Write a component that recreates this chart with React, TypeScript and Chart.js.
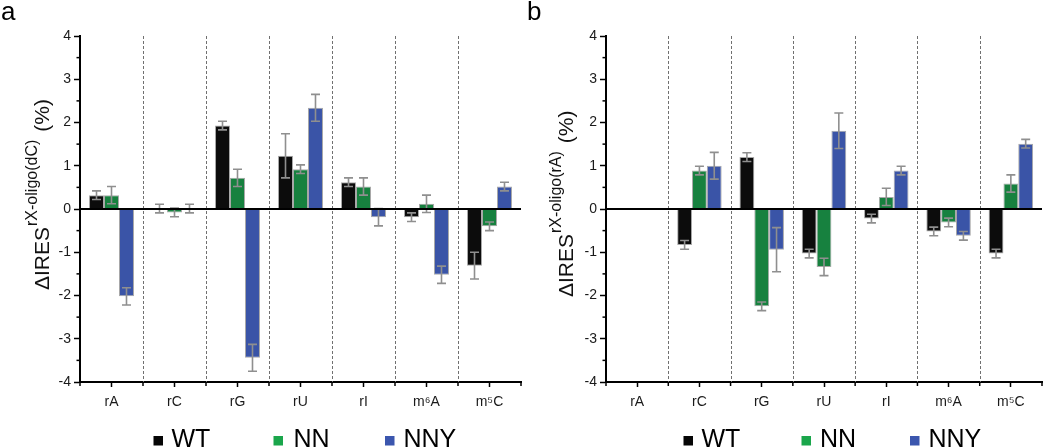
import React, { useEffect, useRef } from 'react';
import { Chart, registerables } from 'chart.js';
Chart.register(...registerables);

const categories = ['rA', 'rC', 'rG', 'rU', 'rI', 'm⁶A', 'm⁵C'];
const seriesNames = ['WT', 'NN', 'NNY'];
const yMin = -4;
const yMax = 4;

// Panel a: ΔIRES rX-oligo(dC)
const aWT = [0.32, 0.01, 1.93, 1.23, 0.62, -0.19, -1.31];
const aWTErr = [0.1, 0.1, 0.1, 0.51, 0.1, 0.1, 0.31];
const aNN = [0.32, -0.08, 0.72, 0.92, 0.52, 0.12, -0.4];
const aNNErr = [0.2, 0.1, 0.2, 0.1, 0.2, 0.2, 0.1];
const aNNY = [-2.02, 0.01, -3.44, 2.34, -0.19, -1.52, 0.52];
const aNNYErr = [0.2, 0.1, 0.31, 0.31, 0.2, 0.2, 0.1];

// Panel b: ΔIRES rX-oligo(rA)
const bWT = [null, -0.83, 1.2, -1.03, -0.22, -0.52, -1.03];
const bWTErr = [null, 0.1, 0.1, 0.1, 0.1, 0.1, 0.1];
const bNN = [null, 0.89, -2.25, -1.34, 0.28, -0.31, 0.59];
const bNNErr = [null, 0.1, 0.1, 0.2, 0.2, 0.1, 0.2];
const bNNY = [null, 1.0, -0.94, 1.81, 0.89, -0.62, 1.51];
const bNNYErr = [null, 0.31, 0.51, 0.41, 0.1, 0.1, 0.1];

const FONT = '"Liberation Sans", Arial, Helvetica, sans-serif';
const barColors = ['#0c0c0c', '#17813f', '#3a54a7'];
const legendColors = ['#050505', '#1aa64b', '#3b56ae'];

type PanelCfg = {
  letter: string;
  letterX: number;
  sup: string;
  titleX: number;
  titleBottom: number;
  legend: { sq: number; tx: number }[];
  values: (number | null)[][];
  errors: (number | null)[][];
  padLeft: number;
  yWidth: number;
  padRight: number;
};

const decorPlugin = {
  id: 'decor',
  beforeDatasetsDraw(chart: any) {
    const { ctx, chartArea, scales } = chart;
    const x = scales.x;
    ctx.save();
    ctx.strokeStyle = '#707070';
    ctx.lineWidth = 1;
    ctx.setLineDash([3, 2]);
    for (let i = 0; i < categories.length - 1; i++) {
      const px = Math.round((x.getPixelForValue(i) + x.getPixelForValue(i + 1)) / 2) + 0.5;
      ctx.beginPath();
      ctx.moveTo(px, chartArea.top);
      ctx.lineTo(px, chartArea.bottom);
      ctx.stroke();
    }
    ctx.restore();
  },
  afterDatasetsDraw(chart: any) {
    const { ctx, chartArea, scales } = chart;
    const y = scales.y;
    ctx.save();
    ctx.strokeStyle = '#8f8f8f';
    ctx.lineWidth = 1.6;
    chart.data.datasets.forEach((ds: any, di: number) => {
      const meta = chart.getDatasetMeta(di);
      meta.data.forEach((bar: any, i: number) => {
        const v = ds.data[i];
        const e = ds.errs[i];
        if (v == null || e == null) return;
        const xc = bar.x;
        const yt = y.getPixelForValue(v + e);
        const yb = y.getPixelForValue(v - e);
        ctx.beginPath();
        ctx.moveTo(xc, yt);
        ctx.lineTo(xc, yb);
        ctx.moveTo(xc - 4.5, yt);
        ctx.lineTo(xc + 4.5, yt);
        ctx.moveTo(xc - 4.5, yb);
        ctx.lineTo(xc + 4.5, yb);
        ctx.stroke();
      });
    });
    // zero line
    const y0 = y.getPixelForValue(0);
    ctx.strokeStyle = '#000';
    ctx.lineWidth = 2;
    ctx.beginPath();
    ctx.moveTo(chartArea.left, y0);
    ctx.lineTo(chartArea.right, y0);
    ctx.stroke();
    ctx.restore();
  },
  afterDraw(chart: any, _args: any, opts: any) {
    const cfg: PanelCfg = opts.cfg;
    const { ctx, chartArea, scales } = chart;
    const x = scales.x;
    const y = scales.y;
    ctx.save();
    // boundary ticks on x axis
    ctx.strokeStyle = '#000';
    ctx.lineWidth = 1.5;
    for (let i = 0; i <= categories.length; i++) {
      let px;
      if (i === 0) px = chartArea.left;
      else if (i === categories.length) px = chartArea.right;
      else px = (x.getPixelForValue(i - 1) + x.getPixelForValue(i)) / 2;
      ctx.beginPath();
      ctx.moveTo(px, chartArea.bottom);
      ctx.lineTo(px, chartArea.bottom + 4);
      ctx.stroke();
    }
    // minor y ticks
    for (let v = yMin + 0.5; v < yMax; v += 1) {
      const py = y.getPixelForValue(v);
      ctx.beginPath();
      ctx.moveTo(chartArea.left - 3.5, py);
      ctx.lineTo(chartArea.left, py);
      ctx.stroke();
    }
    // y title
    ctx.fillStyle = '#111';
    ctx.translate(cfg.titleX, cfg.titleBottom);
    ctx.rotate(-Math.PI / 2);
    ctx.textBaseline = 'alphabetic';
    ctx.textAlign = 'left';
    ctx.font = `21px ${FONT}`;
    const main = 'ΔIRES';
    ctx.fillText(main, 0, 0);
    let off = ctx.measureText(main).width + 1;
    ctx.font = `16px ${FONT}`;
    ctx.fillText(cfg.sup, off, -12);
    off += ctx.measureText(cfg.sup).width + 8;
    ctx.font = `21px ${FONT}`;
    ctx.fillText('(%)', off, 0);
    ctx.setTransform(1, 0, 0, 1, 0, 0);
    // panel letter
    ctx.font = `26px ${FONT}`;
    ctx.fillStyle = '#000';
    ctx.fillText(cfg.letter, cfg.letterX, 20);
    // legend
    ctx.font = `25px ${FONT}`;
    cfg.legend.forEach((it, i) => {
      ctx.fillStyle = legendColors[i];
      ctx.fillRect(it.sq, 436, 9.5, 9.5);
      ctx.fillStyle = '#000';
      ctx.fillText(seriesNames[i], it.tx, 446.5);
    });
    ctx.restore();
  },
};

function Panel({ cfg }: { cfg: PanelCfg }) {
  const ref = useRef<HTMLCanvasElement>(null);
  useEffect(() => {
    if (!ref.current) return;
    const chart = new Chart(ref.current, {
      type: 'bar',
      data: {
        labels: categories,
        datasets: seriesNames.map((name, i) => ({
          label: name,
          data: cfg.values[i],
          errs: cfg.errors[i],
          backgroundColor: barColors[i],
          borderColor: '#a8a8a8',
          borderWidth: 1,
          categoryPercentage: 0.714,
          barPercentage: 1,
        })) as any,
      },
      options: {
        animation: false,
        responsive: false,
        events: [],
        layout: { padding: { left: cfg.padLeft, right: cfg.padRight, top: 36, bottom: 0 } },
        plugins: {
          legend: { display: false },
          tooltip: { enabled: false },
          decor: { cfg },
        } as any,
        scales: {
          x: {
            type: 'category',
            afterFit: (s: any) => {
              s.height = 66;
            },
            grid: {
              offset: false,
              drawOnChartArea: false,
              drawTicks: true,
              tickLength: 5,
              tickColor: '#000',
              tickWidth: 1.5,
            },
            border: { color: '#000', width: 2 },
            ticks: {
              font: { family: FONT, size: 14 },
              color: '#1a1a1a',
              padding: 7,
              maxRotation: 0,
              autoSkip: false,
            },
          },
          y: {
            type: 'linear',
            min: yMin,
            max: yMax,
            afterFit: (s: any) => {
              s.width = cfg.yWidth;
            },
            grid: {
              drawOnChartArea: false,
              drawTicks: true,
              tickLength: 6,
              tickColor: '#000',
              tickWidth: 1.5,
            },
            border: { color: '#000', width: 2 },
            ticks: {
              stepSize: 1,
              font: { family: FONT, size: 14 },
              color: '#1a1a1a',
              padding: 3,
            },
          },
        },
      },
      plugins: [decorPlugin],
    } as any);
    return () => chart.destroy();
  }, [cfg]);
  return <canvas ref={ref} width={525} height={448} style={{ display: 'block', width: 525, height: 448 }} />;
}

const panelA: PanelCfg = {
  letter: 'a',
  letterX: 1,
  sup: 'rX-oligo(dC)',
  titleX: 48.5,
  titleBottom: 290,
  legend: [
    { sq: 153.5, tx: 171.5 },
    { sq: 273.5, tx: 293.5 },
    { sq: 385, tx: 403.5 },
  ],
  values: [aWT, aNN, aNNY],
  errors: [aWTErr, aNNErr, aNNYErr],
  padLeft: 0,
  yWidth: 80,
  padRight: 4,
};

const panelB: PanelCfg = {
  letter: 'b',
  letterX: 2,
  sup: 'rX-oligo(rA)',
  titleX: 48,
  titleBottom: 297,
  legend: [
    { sq: 158.5, tx: 176.5 },
    { sq: 276.5, tx: 295 },
    { sq: 385, tx: 403.5 },
  ],
  values: [bWT, bNN, bNNY],
  errors: [bWTErr, bNNErr, bNNYErr],
  padLeft: 0,
  yWidth: 81,
  padRight: 8,
};

export default function App() {
  return (
    <div style={{ position: 'fixed', left: 0, top: 0, width: 1050, height: 448, display: 'flex', background: '#fff' }}>
      <Panel cfg={panelA} />
      <Panel cfg={panelB} />
    </div>
  );
}
